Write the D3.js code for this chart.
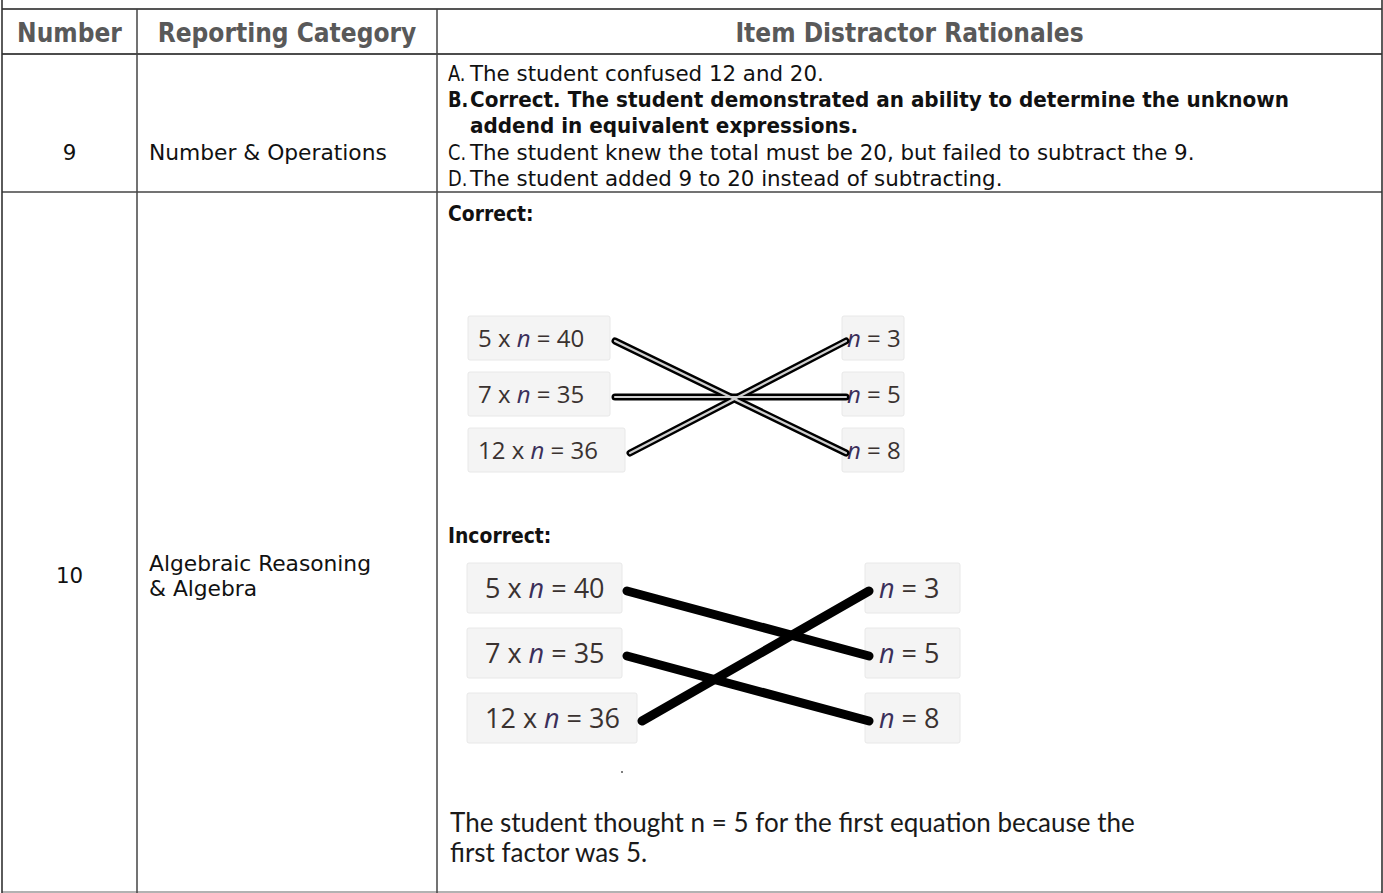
<!DOCTYPE html>
<html>
<head>
<meta charset="utf-8">
<script src="https://cdn.jsdelivr.net/npm/d3@7"></script>
<style>
  html, body { margin: 0; padding: 0; background: #fff; }
  svg { display: block; }
  .cond { font-family: "DejaVu Sans Condensed", "DejaVu Sans", sans-serif; font-stretch: semi-condensed; }
  .eq { font-family: "Open Sans", sans-serif; }
  .cal { font-family: "Lato", "Open Sans", sans-serif; }
</style>
</head>
<body>
<svg id="chart" width="1383" height="893"></svg>
<script>
// ---------- data ----------
const headers = ["Number", "Reporting Category", "Item Distractor Rationales"];
const itemNumbers = ["9", "10"];
const categories = [["Number & Operations"], ["Algebraic Reasoning", "& Algebra"]];
const rationaleLabels = ["A.", "B.", "C.", "D."];
const rationaleLines = [
  ["The student confused 12 and 20."],
  ["Correct. The student demonstrated an ability to determine the unknown", "addend in equivalent expressions."],
  ["The student knew the total must be 20, but failed to subtract the 9."],
  ["The student added 9 to 20 instead of subtracting."]
];
const rationaleBold = [false, true, false, false];
const sectionTitles = ["Correct:", "Incorrect:"];
const equations = ["5 x n = 40", "7 x n = 35", "12 x n = 36"];
const solutions = ["n = 3", "n = 5", "n = 8"];
const correctLinks = [[0, 2], [1, 1], [2, 0]];
const incorrectLinks = [[0, 1], [1, 2], [2, 0]];
const explanation = ["The student thought n = 5 for the first equation because the", "first factor was 5."];

// ---------- layout ----------
const svg = d3.select("#chart");
const W = 1383, H = 893;
const colX = d3.scaleOrdinal().domain([0, 1, 2, 3]).range([2, 137, 437, 1382]);
const rowY = d3.scaleOrdinal().domain([0, 1, 2, 3]).range([9, 54, 192, 892]);
const BODY = 22;

function condText(parent, x, y, str, opts = {}) {
  const bold = !!opts.bold;
  const sx = opts.sx || (bold ? 1.01 : 1.08);
  return parent.append("text")
    .attr("class", "cond")
    .attr("transform", `translate(${x},${y}) scale(${sx},1)`)
    .attr("font-size", opts.size || BODY)
    .attr("font-weight", bold ? "bold" : "normal")
    .attr("fill", opts.fill || "#111")
    .attr("text-anchor", opts.anchor || "start")
    .text(str);
}

// ---------- header ----------
const hg = svg.append("g");
headers.forEach((h, i) => {
  hg.append("text")
    .attr("class", "cond")
    .attr("x", (colX(i) + colX(i + 1)) / 2)
    .attr("y", 42)
    .attr("text-anchor", "middle")
    .attr("font-size", 26)
    .attr("font-weight", "bold")
    .attr("fill", "#595959")
    .text(h);
});

// ---------- item numbers & categories ----------
const numY = [152, 575];
const ng = svg.append("g");
itemNumbers.forEach((n, i) => condText(ng, (colX(0) + colX(1)) / 2, numY[i] + 8, n, { anchor: "middle" }));

const catY = [[152], [563, 588]];
const cg = svg.append("g");
categories.forEach((lines, i) => {
  lines.forEach((t, j) => condText(cg, colX(1) + 12, catY[i][j] + 8, t, { sx: 1.1 }));
});

// ---------- rationales row 9 ----------
const lineStep = 26.2;
let lineIdx = 0;
const ratG = svg.append("g");
rationaleLines.forEach((lines, i) => {
  condText(ratG, colX(2) + 11, 81 + lineIdx * lineStep, rationaleLabels[i], { bold: rationaleBold[i], sx: 0.9 });
  lines.forEach((t, j) => {
    condText(ratG, colX(2) + 33, 81 + (lineIdx + j) * lineStep, t, { bold: rationaleBold[i] });
  });
  lineIdx += lines.length;
});

// ---------- section titles ----------
const secY = [221, 543];
const sg = svg.append("g");
sectionTitles.forEach((s, i) => condText(sg, colX(2) + 11, secY[i], s, { bold: true, sx: 0.95 }));

// ---------- matching diagrams ----------
function eqText(sel, str) {
  str.split(/(n)/).filter(s => s.length).forEach(part => {
    sel.append("tspan")
      .attr("font-style", part === "n" ? "italic" : "normal")
      .attr("fill", part === "n" ? "#3b2f5a" : "#3a3230")
      .text(part);
  });
}

function diagram(cfg) {
  const g = svg.append("g");
  const y = d3.scalePoint().domain(d3.range(equations.length)).range([cfg.y0, cfg.y1]);
  const leftW = cfg.leftW;
  equations.forEach((eq, i) => {
    g.append("rect")
      .attr("x", cfg.lx).attr("y", y(i) - cfg.bh / 2)
      .attr("width", leftW[i]).attr("height", cfg.bh)
      .attr("rx", 2).attr("fill", "#f4f4f4").attr("stroke", "#e8e8e8");
    const t = g.append("text").attr("class", "eq")
      .attr("x", cfg.lx + cfg.pad).attr("y", y(i) + cfg.fs * 0.36)
      .attr("font-size", cfg.fs);
    eqText(t, eq);
  });
  solutions.forEach((s, i) => {
    g.append("rect")
      .attr("x", cfg.rx).attr("y", y(i) - cfg.bh / 2)
      .attr("width", cfg.rw).attr("height", cfg.bh)
      .attr("rx", 2).attr("fill", "#f4f4f4").attr("stroke", "#e8e8e8");
    const t = g.append("text").attr("class", "eq")
      .attr("x", cfg.rx + cfg.rpad).attr("y", y(i) + cfg.fs * 0.36)
      .attr("font-size", cfg.fs);
    eqText(t, s);
  });
  const lg = g.append("g");
  const pts = ([a, b]) => [cfg.lx + leftW[a] + cfg.gap, y(a) + cfg.dy, cfg.rx + 4, y(b) + cfg.dy];
  cfg.links.forEach(l => {
    const [x1, y1, x2, y2] = pts(l);
    lg.append("line").attr("x1", x1).attr("y1", y1).attr("x2", x2).attr("y2", y2)
      .attr("stroke", "#000").attr("stroke-width", cfg.sw).attr("stroke-linecap", "round");
  });
  if (cfg.inner) {
    cfg.links.forEach(l => {
      const [x1, y1, x2, y2] = pts(l);
      lg.append("line").attr("x1", x1).attr("y1", y1).attr("x2", x2).attr("y2", y2)
        .attr("stroke", "#d0d0d0").attr("stroke-width", 2.2).attr("stroke-linecap", "round");
    });
  }
}

diagram({
  y0: 338, y1: 450, bh: 44, lx: 468, leftW: [142, 142, 157], rx: 842, rw: 62,
  pad: 10, rpad: 5, fs: 24, links: correctLinks, sw: 7, inner: true, gap: 5, dy: 3
});
diagram({
  y0: 588, y1: 718, bh: 50, lx: 467, leftW: [155, 155, 170], rx: 865, rw: 95,
  pad: 18, rpad: 14, fs: 27, links: incorrectLinks, sw: 9, inner: false, gap: 5, dy: 3
});

// tiny artifact dot
svg.append("circle").attr("cx", 622).attr("cy", 772).attr("r", 1).attr("fill", "#555");

// explanation
svg.append("g").selectAll("text").data(explanation).join("text")
  .attr("class", "cal")
  .attr("x", 450)
  .attr("y", (d, i) => 832 + i * 30)
  .attr("font-size", 26)
  .attr("fill", "#1a1a1a")
  .text(d => d);

// ---------- grid lines ----------
const grid = svg.append("g");
grid.append("line").attr("x1", colX(0)).attr("x2", colX(3)).attr("y1", rowY(0)).attr("y2", rowY(0))
  .attr("stroke", "#555").attr("stroke-width", 2.2);
grid.append("line").attr("x1", colX(0)).attr("x2", colX(3)).attr("y1", rowY(1)).attr("y2", rowY(1))
  .attr("stroke", "#111").attr("stroke-width", 1.6);
grid.append("line").attr("x1", colX(0)).attr("x2", colX(3)).attr("y1", rowY(2)).attr("y2", rowY(2))
  .attr("stroke", "#444").attr("stroke-width", 1.5);
grid.append("line").attr("x1", colX(0)).attr("x2", colX(3)).attr("y1", rowY(3)).attr("y2", rowY(3))
  .attr("stroke", "#999").attr("stroke-width", 1.5);
[0, 3].forEach(c => grid.append("line").attr("x1", colX(c)).attr("x2", colX(c)).attr("y1", 0).attr("y2", H)
  .attr("stroke", "#333").attr("stroke-width", 1.6));
[1, 2].forEach(c => grid.append("line").attr("x1", colX(c)).attr("x2", colX(c)).attr("y1", rowY(0)).attr("y2", H)
  .attr("stroke", "#444").attr("stroke-width", 1.5));
</script>
</body>
</html>
